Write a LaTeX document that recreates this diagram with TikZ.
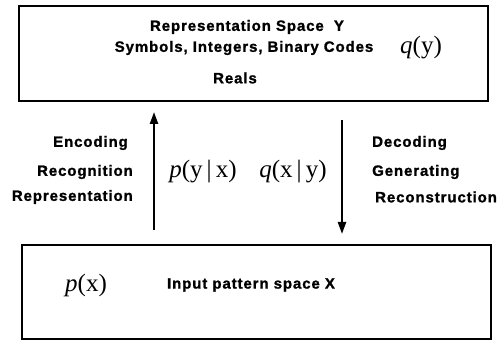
\documentclass[tikz,border=0pt]{standalone}
\usepackage{fontspec}
\setmainfont{Liberation Serif}
\newfontfamily\labelfont{Liberation Sans}[LetterSpace=6,BoldFeatures={FakeBold=1.2}]
\usetikzlibrary{arrows.meta}

\newcommand{\prob}[2]{\textit{#1}(#2)}

\begin{document}
\begin{tikzpicture}[x=1pt,y=-1pt,
    space/.style={draw,line width=2pt,inner sep=0pt,minimum width=469pt},
    lbl/.style={inner sep=0pt,font=\labelfont\bfseries\fontsize{15}{17}\selectfont},
    dist/.style={inner sep=0pt,font=\fontsize{25}{28}\selectfont},
    flow/.style={line width=2.2pt,-{Triangle[length=12pt,width=8pt]}}]
    \useasboundingbox (0,0) rectangle (500,347);
    \node[space,minimum height=95pt] (rep) at (253.5,53.5) {};
    \node[space,minimum height=94pt] (inp) at (256.5,292) {};
    \node[lbl] (repname) at (247,27) {Representation Space~~Y};
    \node[lbl] (symb) at (244,48) {Symbols, Integers, Binary Codes};
    \node[lbl] (reals) at (235,78) {Reals};
    \node[dist] (qy) at (421,48) {\prob{q}{y}};
    \node[lbl,anchor=east] (enc) at (128,143) {Encoding};
    \node[lbl,anchor=east] (recog) at (133,172) {Recognition};
    \node[lbl,anchor=east] (repr) at (133,197) {Representation};
    \node[lbl,anchor=west] (dec) at (372,143) {Decoding};
    \node[lbl,anchor=west] (gen) at (372,172) {Generating};
    \node[lbl,anchor=west] (recon) at (375,197) {Reconstruction};
    \node[dist] (pyx) at (203,172) {\prob{p}{y\,|\,x}};
    \node[dist] (qxy) at (293,172) {\prob{q}{x\,|\,y}};
    \node[dist] (px) at (86,285) {\prob{p}{x}};
    \node[lbl] (inpname) at (251,285) {Input pattern space X};
    \coordinate (encS) at (154,0);
    \coordinate (decS) at (342,0);
    \draw[flow,shorten <=14pt,shorten >=10pt] (inp.north -| encS) -- (rep.south -| encS);
    \draw[flow,shorten <=18pt,shorten >=10pt] (rep.south -| decS) -- (inp.north -| decS);
\end{tikzpicture}
\end{document}
